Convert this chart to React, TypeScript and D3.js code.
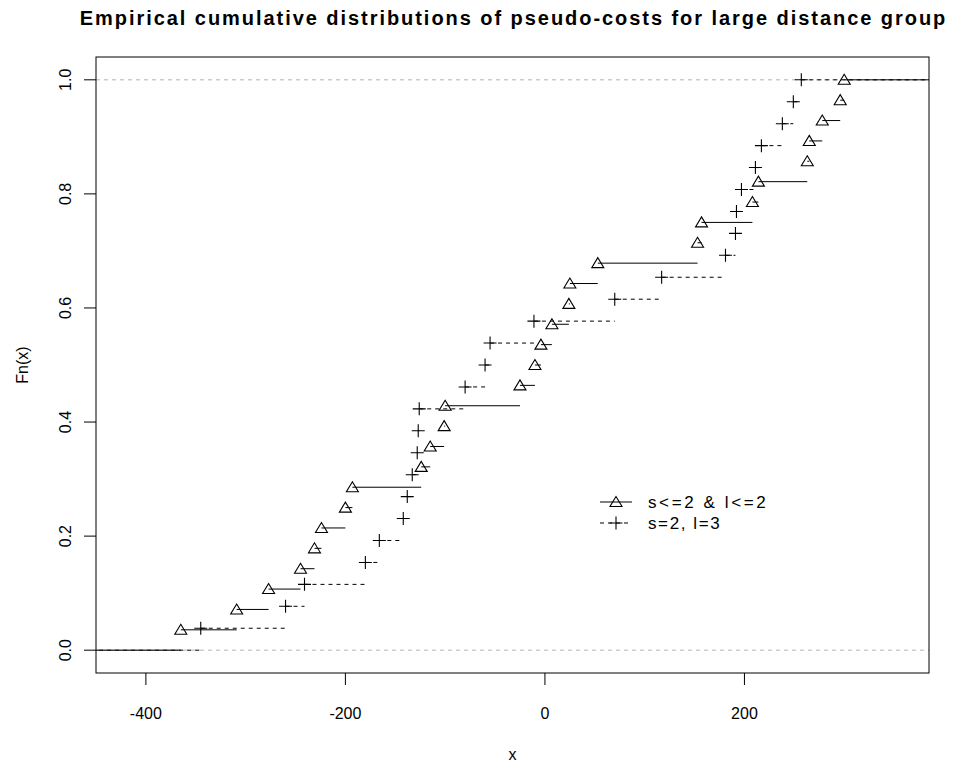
import { useEffect, useRef } from 'react';
import * as d3 from 'd3';

// sorted sample values
const groupA = [
  -365, -309, -277, -245, -231, -224, -200, -193, -124, -115, -101, -100, -25, -10,
  -4, 7, 24, 25, 53, 153, 157, 208, 214, 263, 265, 278, 296, 300,
];
const groupB = [
  -345, -260, -241, -180, -166, -142, -138, -133, -128, -127, -126, -80, -60, -55,
  -11, 70, 117, 181, 191, 192, 197, 211, 217, 238, 249, 257,
];
const xTicks = [-400, -200, 0, 200];
const yTicks = [0, 0.2, 0.4, 0.6, 0.8, 1.0];
const legendLabels = ['s<=2 & l<=2', 's=2, l=3'];

const W = 955;
const H = 767;
const FONT = '"Liberation Sans", Arial, Helvetica, sans-serif';

export default function App() {
  const svgRef = useRef<SVGSVGElement>(null);

  useEffect(() => {
    document.body.style.margin = '0';
    if (!svgRef.current) return;
    const svg = d3.select(svgRef.current);
    svg.selectAll('*').remove();

    const left = 96, right = 929, top = 57, bottom = 673;
    const x = d3.scaleLinear().domain([-450, 385]).range([left, right]);
    const y = d3.scaleLinear().domain([-0.04, 1.04]).range([bottom, top]);

    svg.append('rect').attr('width', W).attr('height', H).attr('fill', '#fff');

    svg.append('clipPath').attr('id', 'plotclip')
      .append('rect')
      .attr('x', left).attr('y', top)
      .attr('width', right - left).attr('height', bottom - top);

    const plot = svg.append('g').attr('clip-path', 'url(#plotclip)');

    // gray reference lines at 0 and 1
    [0, 1].forEach(v => {
      plot.append('line')
        .attr('x1', left).attr('x2', right)
        .attr('y1', y(v)).attr('y2', y(v))
        .attr('stroke', '#b4b4b4')
        .attr('stroke-dasharray', '4,4');
    });

    const triangle = (g: d3.Selection<SVGGElement, unknown, null, undefined>, cx: number, cy: number) => {
      g.append('path')
        .attr('d', `M${cx - 6},${cy + 4.5}L${cx + 6},${cy + 4.5}L${cx},${cy - 5.5}Z`)
        .attr('fill', 'none').attr('stroke', '#000').attr('stroke-width', 1.1);
    };
    const plus = (g: d3.Selection<SVGGElement, unknown, null, undefined>, cx: number, cy: number) => {
      g.append('path')
        .attr('d', `M${cx - 6.5},${cy}H${cx + 6.5}M${cx},${cy - 6.5}V${cy + 6.5}`)
        .attr('fill', 'none').attr('stroke', '#000').attr('stroke-width', 1.1);
    };

    const drawEcdf = (
      vals: number[],
      dash: string | null,
      marker: typeof triangle,
    ) => {
      const n = vals.length;
      const g = plot.append('g');
      const knots = [-1000, ...vals, 1000];
      for (let i = 0; i < knots.length - 1; i++) {
        const line = g.append('line')
          .attr('x1', x(knots[i])).attr('x2', x(knots[i + 1]))
          .attr('y1', y(i / n)).attr('y2', y(i / n))
          .attr('stroke', '#000').attr('stroke-width', 1);
        if (dash) line.attr('stroke-dasharray', dash);
      }
      vals.forEach((v, i) => marker(g, x(v), y((i + 1) / n)));
    };

    drawEcdf(groupA, null, triangle);
    drawEcdf(groupB, '4,4', plus);

    // box
    svg.append('rect')
      .attr('x', left).attr('y', top)
      .attr('width', right - left).attr('height', bottom - top)
      .attr('fill', 'none').attr('stroke', '#000');

    // x axis
    xTicks.forEach(t => {
      svg.append('line')
        .attr('x1', x(t)).attr('x2', x(t))
        .attr('y1', bottom).attr('y2', bottom + 12)
        .attr('stroke', '#000');
      svg.append('text')
        .attr('x', x(t)).attr('y', 719)
        .attr('text-anchor', 'middle')
        .attr('font-family', FONT).attr('font-size', 16)
        .text(t);
    });

    // y axis
    yTicks.forEach(t => {
      svg.append('line')
        .attr('x1', left - 12).attr('x2', left)
        .attr('y1', y(t)).attr('y2', y(t))
        .attr('stroke', '#000');
      svg.append('text')
        .attr('transform', `translate(71,${y(t)}) rotate(-90)`)
        .attr('text-anchor', 'middle')
        .attr('font-family', FONT).attr('font-size', 16)
        .text(t.toFixed(1));
    });

    svg.append('text')
      .attr('x', (left + right) / 2).attr('y', 760)
      .attr('text-anchor', 'middle')
      .attr('font-family', FONT).attr('font-size', 16)
      .text('x');

    svg.append('text')
      .attr('transform', `translate(28,${(top + bottom) / 2}) rotate(-90)`)
      .attr('text-anchor', 'middle')
      .attr('font-family', FONT).attr('font-size', 16)
      .text('Fn(x)');

    svg.append('text')
      .attr('x', (left + right) / 2 + 1).attr('y', 25)
      .attr('text-anchor', 'middle')
      .attr('font-family', FONT).attr('font-size', 20).attr('font-weight', 'bold')
      .attr('letter-spacing', 1.95)
      .text('Empirical cumulative distributions of pseudo-costs for large distance group');

    // legend
    const lg = svg.append('g');
    const legRows = [502, 523];
    legRows.forEach((ly, i) => {
      const ln = lg.append('line')
        .attr('x1', 600).attr('x2', 632)
        .attr('y1', ly).attr('y2', ly)
        .attr('stroke', '#000');
      if (i === 1) ln.attr('stroke-dasharray', '4,4');
      (i === 0 ? triangle : plus)(lg as any, 616, ly);
      lg.append('text')
        .attr('x', 648).attr('y', ly + 6)
        .attr('font-family', FONT).attr('font-size', 17)
        .attr('letter-spacing', i === 0 ? 2.6 : 1.6)
        .text(legendLabels[i]);
    });
  }, []);

  return <svg ref={svgRef} width={W} height={H} style={{ display: 'block' }} />;
}
